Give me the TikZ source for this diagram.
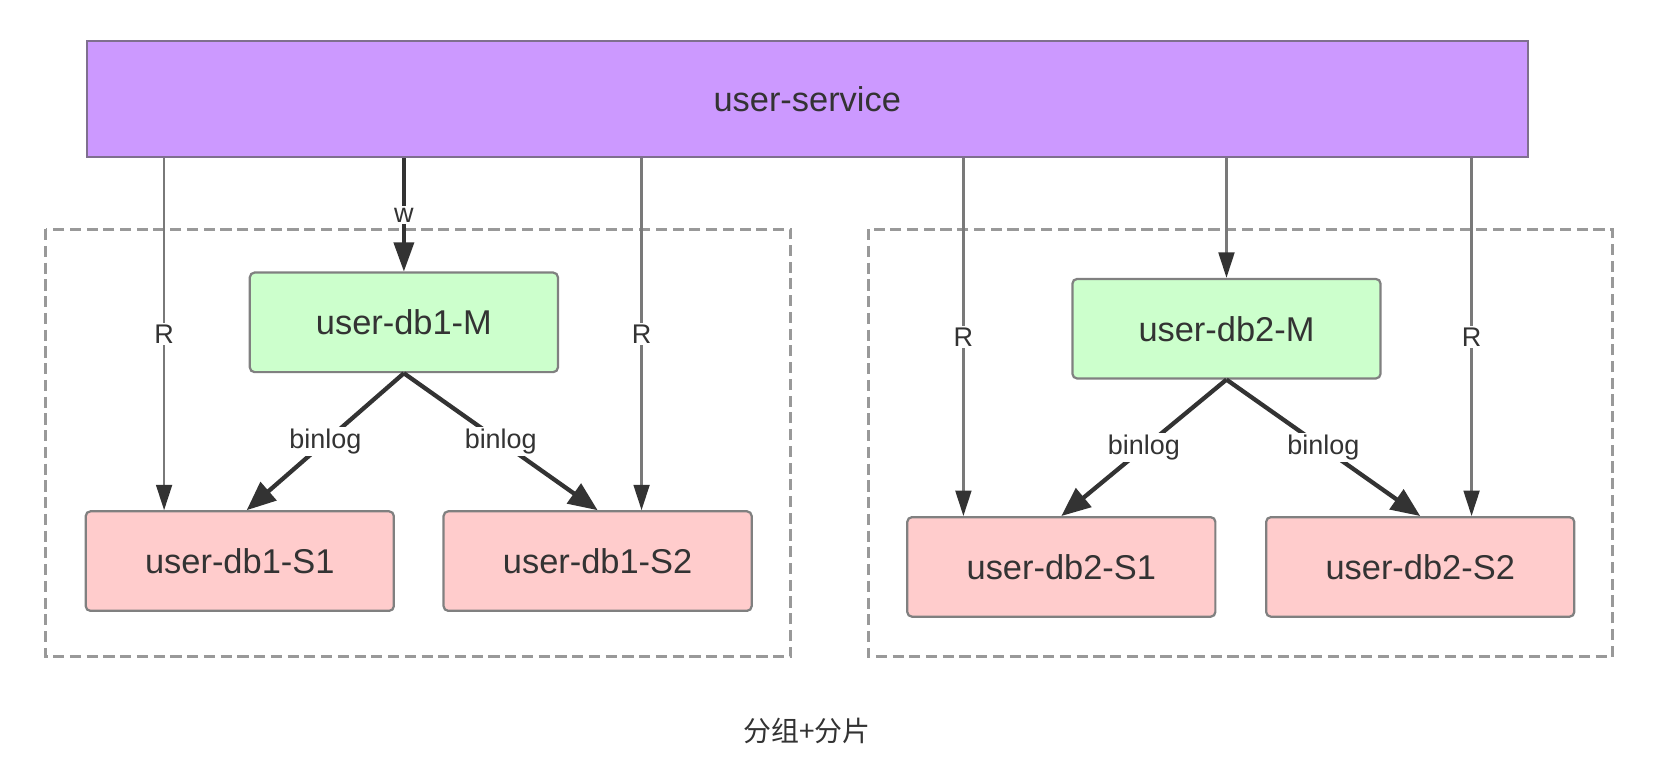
\documentclass[tikz,border=0pt]{standalone}
\usepackage{fontspec}
\setmainfont{Liberation Sans}
\newfontfamily\cjk{Noto Sans CJK SC}
\usetikzlibrary{arrows.meta}
\definecolor{svcfill}{HTML}{CC99FF}
\definecolor{svcline}{HTML}{7F6F8F}
\definecolor{mfill}{HTML}{CCFFCC}
\definecolor{sfill}{HTML}{FFCCCC}
\definecolor{boxline}{HTML}{808080}
\definecolor{txt}{HTML}{333333}
\begin{document}
\begin{tikzpicture}[font=\fontsize{18.5}{22}\selectfont, text=txt]
 \tikzstyle{dbbox} = [draw=boxline, line width=1.2pt, rounded corners=2.5pt, minimum width=5.82cm, minimum height=1.88cm];
 \tikzstyle{group} = [draw=gray!80, line width=1.7pt, dash pattern=on 6pt off 3pt];
 \tikzstyle{read} = [-{Triangle[length=0.48cm, width=0.3cm, color=txt]}, draw=gray!95!black, line width=1.2pt];
 \tikzstyle{write} = [-{Triangle[length=0.55cm, width=0.38cm]}, draw=txt, line width=1.8pt];
 \tikzstyle{binlog} = [-{Triangle[length=0.55cm, width=0.45cm]}, draw=txt, line width=2.3pt];
 \tikzstyle{lbl} = [fill=white, inner sep=1pt, font=\fontsize{14.5}{16}\selectfont];
\useasboundingbox (0,0) rectangle (31.36,14.81);

% groups
\draw [group] (0.86,10.48) rectangle (14.94,2.40);
\draw [group] (16.4,10.48) rectangle (30.46,2.40);

\node [draw=svcline, fill=svcfill, line width=1.2pt, minimum width=27.22cm, minimum height=2.2cm] (svc) at (15.25,12.94) {user-service};

% group 1
\node [dbbox, fill=mfill] (m1) at (7.63,8.72) {user-db1-M};
\node [dbbox, fill=sfill] (s11) at (4.53,4.21) {user-db1-S1};
\node [dbbox, fill=sfill] (s12) at (11.29,4.21) {user-db1-S2};

% group 2
\node [dbbox, fill=mfill] (m2) at (23.17,8.60) {user-db2-M};
\node [dbbox, fill=sfill] (s21) at (20.05,4.10) {user-db2-S1};
\node [dbbox, fill=sfill] (s22) at (26.83,4.10) {user-db2-S2};

\draw [read] ([xshift=-1.43cm]s11.north |- svc.south) -- node [lbl] {R} ([xshift=-1.43cm]s11.north);
\draw [write] (m1.north |- svc.south) -- node [lbl] {w} (m1.north);
\draw [read] ([xshift=0.83cm]s12.north |- svc.south) -- node [lbl] {R} ([xshift=0.83cm]s12.north);

\draw [read] ([xshift=-1.85cm]s21.north |- svc.south) -- node [lbl] {R} ([xshift=-1.85cm]s21.north);
\draw [read] (m2.north |- svc.south) -- (m2.north);
\draw [read] ([xshift=0.97cm]s22.north |- svc.south) -- node [lbl] {R} ([xshift=0.97cm]s22.north);

\draw [binlog] (m1.south) -- node [lbl] {binlog} ([xshift=0.13cm]s11.north);
\draw [binlog] (m1.south) -- node [lbl] {binlog} (s12.north);
\draw [binlog] (m2.south) -- node [lbl] {binlog} (s21.north);
\draw [binlog] (m2.south) -- node [lbl] {binlog} (s22.north);

\node [font=\cjk\fontsize{15}{18}\selectfont] (cap) at (15.25,1.0) {分组+分片};
\end{tikzpicture}
\end{document}
